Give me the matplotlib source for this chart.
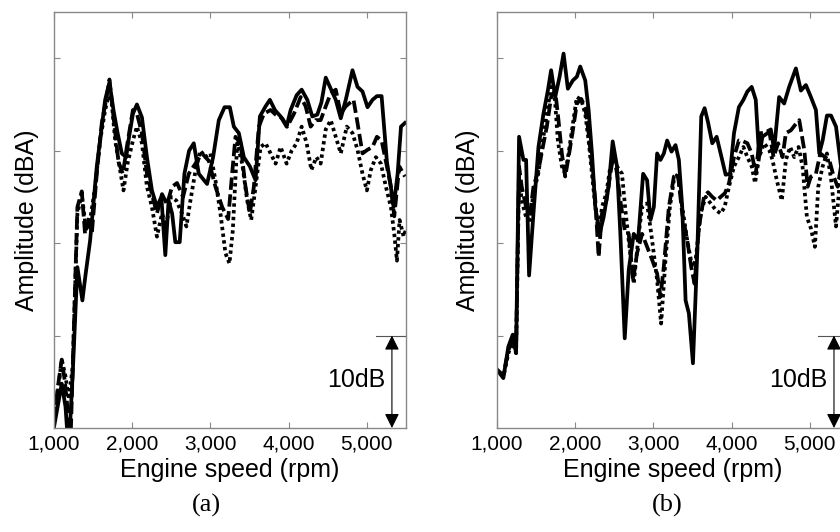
import matplotlib
matplotlib.use("Agg")
import matplotlib.pyplot as plt

plt.rcParams['font.family'] = ['Liberation Sans', 'DejaVu Sans']

# panel (a) -- amplitude relative to bottom of axis (dB)
a_solid_rpm = [1000, 1099, 1147, 1170, 1200, 1240, 1299, 1363, 1402, 1462, 1547, 1611, 1654, 1709,
               1760, 1811, 1867, 1923, 1952, 2009, 2060, 2124, 2188, 2252, 2316, 2372, 2423, 2465,
               2510, 2551, 2607, 2667, 2727, 2787, 2851, 2957, 3034, 3107, 3180, 3248, 3299, 3363,
               3427, 3504, 3577, 3632, 3705, 3760, 3824, 3897, 3974, 4025, 4102, 4166, 4238, 4302,
               4366, 4418, 4474, 4538, 4602, 4666, 4730, 4816, 4880, 4944, 5008, 5072, 5128, 5188,
               5256, 5299, 5342, 5393, 5436, 5487]
a_solid_db = [0.1, 4.8, 2.3, -0.5, -0.5, 6.0, 17.4, 13.8, 16.5, 20.3, 28.3, 32.6, 35.5, 37.4,
              34.4, 32.0, 29.7, 29.3, 31.1, 34.0, 35.0, 33.6, 29.3, 25.7, 23.9, 25.0, 18.7, 24.6,
              23.2, 20.1, 20.1, 27.5, 30.0, 30.8, 27.5, 26.4, 29.3, 33.3, 34.7, 34.7, 32.6, 31.9,
              29.3, 28.3, 26.8, 33.7, 34.8, 35.5, 34.4, 33.7, 32.6, 34.4, 36.0, 36.6, 35.5, 33.7,
              33.9, 35.2, 37.9, 36.7, 35.5, 33.5, 35.5, 38.7, 36.9, 36.4, 34.7, 35.5, 35.9, 35.9,
              28.8, 26.5, 23.9, 27.5, 32.6, 33.0]

a_dash_rpm = [1000, 1050, 1099, 1141, 1180, 1215, 1299, 1355, 1397, 1453, 1483, 1547, 1611, 1675,
              1709, 1760, 1824, 1880, 1931, 2009, 2060, 2124, 2188, 2252, 2316, 2381, 2445, 2509,
              2573, 2650, 2723, 2808, 2893, 2979, 3064, 3150, 3226, 3277, 3320, 3384, 3448, 3504,
              3555, 3619, 3683, 3769, 3833, 3918, 3982, 4068, 4153, 4217, 4281, 4345, 4409, 4474,
              4538, 4602, 4666, 4730, 4829, 4880, 4944, 5008, 5072, 5128, 5188, 5256, 5307, 5350,
              5414, 5487]
a_dash_db = [1.0, 4.5, 7.4, 4.9, 1.5, -0.5, 23.9, 25.6, 21.0, 22.9, 21.0, 27.5, 33.0, 35.9,
             37.7, 33.7, 28.8, 27.5, 30.4, 34.4, 34.0, 31.9, 27.5, 25.3, 23.2, 25.3, 24.2, 26.1,
             26.5, 25.0, 27.5, 28.6, 29.7, 28.9, 26.1, 23.9, 22.6, 27.5, 31.5, 30.8, 26.1, 23.2,
             26.1, 32.6, 34.0, 34.4, 33.9, 33.5, 32.6, 34.0, 35.8, 34.8, 32.6, 33.3, 33.3, 34.8,
             36.2, 36.6, 34.0, 34.8, 35.5, 33.0, 29.7, 30.1, 30.4, 31.5, 31.1, 28.3, 26.1, 22.9,
             28.3, 27.2]

a_dot_rpm = [1000, 1050, 1099, 1147, 1190, 1240, 1299, 1355, 1410, 1462, 1526, 1590, 1654, 1697,
             1739, 1782, 1837, 1888, 1940, 2009, 2060, 2124, 2188, 2252, 2316, 2381, 2432, 2496,
             2564, 2637, 2693, 2744, 2808, 2872, 2936, 3000, 3064, 3128, 3192, 3243, 3286, 3342,
             3406, 3470, 3521, 3577, 3641, 3705, 3769, 3833, 3897, 3974, 4038, 4102, 4166, 4230,
             4290, 4354, 4409, 4474, 4538, 4602, 4666, 4743, 4816, 4880, 4944, 5000, 5050, 5115,
             5179, 5243, 5307, 5350, 5384, 5418, 5470, 5500]
a_dot_db = [1.0, 4.0, 7.4, 5.6, 3.1, 6.7, 23.2, 25.3, 21.4, 22.5, 26.1, 31.1, 34.4, 35.9,
            35.1, 31.1, 28.3, 25.7, 28.6, 31.1, 32.6, 30.8, 26.1, 23.9, 20.7, 23.2, 21.8, 25.0,
            24.6, 23.2, 21.8, 24.6, 27.8, 30.0, 29.3, 29.7, 26.8, 23.2, 18.9, 17.8, 21.4, 30.8,
            28.6, 24.6, 22.5, 26.1, 30.4, 30.8, 29.7, 28.6, 30.4, 28.6, 30.0, 30.8, 32.6, 30.8,
            27.9, 29.3, 28.6, 32.3, 33.3, 31.5, 29.7, 32.6, 31.9, 30.1, 27.5, 25.7, 27.9, 29.3,
            28.6, 26.1, 23.9, 21.0, 18.1, 22.5, 20.7, 21.5]

# panel (b)
b_solid_rpm = [1000, 1081, 1145, 1201, 1244, 1282, 1338, 1372, 1410, 1466, 1530, 1594, 1650, 1692,
               1744, 1800, 1851, 1906, 1970, 2021, 2064, 2128, 2171, 2214, 2257, 2312, 2363, 2427,
               2479, 2534, 2577, 2633, 2684, 2748, 2804, 2868, 2919, 2962, 3005, 3047, 3090, 3133,
               3175, 3231, 3282, 3325, 3368, 3411, 3453, 3505, 3560, 3611, 3654, 3697, 3752, 3808,
               3859, 3923, 3979, 4030, 4092, 4150, 4201, 4256, 4308, 4351, 4393, 4458, 4500, 4543,
               4607, 4671, 4735, 4821, 4885, 4949, 5013, 5077, 5120, 5163, 5218, 5270, 5334, 5398,
               5450, 5500]
b_solid_db = [6.3, 5.4, 8.8, 10.1, 8.1, 31.5, 29.0, 29.0, 16.5, 23.2, 30.4, 34.0, 36.5, 38.7,
              35.8, 38.0, 40.5, 36.7, 37.6, 38.0, 39.1, 37.6, 34.4, 29.7, 23.9, 21.0, 22.8, 26.1,
              31.0, 28.3, 21.0, 9.7, 17.1, 21.0, 20.3, 27.5, 26.8, 22.5, 23.9, 29.7, 29.0, 29.7,
              31.1, 29.9, 30.6, 29.0, 23.9, 13.8, 12.4, 7.0, 18.9, 33.7, 34.6, 33.1, 30.8, 31.5,
              29.7, 27.4, 27.5, 31.9, 34.7, 35.5, 36.4, 36.9, 35.5, 29.3, 31.5, 31.9, 32.3, 30.1,
              35.8, 35.1, 36.9, 38.9, 36.5, 37.1, 35.8, 34.4, 29.7, 31.1, 33.8, 33.8, 32.6, 28.3,
              30.5, 29.0]

b_dash_rpm = [1000, 1081, 1145, 1201, 1244, 1282, 1316, 1372, 1423, 1466, 1530, 1586, 1637, 1692,
              1744, 1786, 1829, 1872, 1915, 1970, 2021, 2077, 2128, 2171, 2214, 2257, 2299, 2342,
              2398, 2449, 2491, 2534, 2577, 2633, 2684, 2739, 2790, 2855, 2919, 2983, 3047, 3090,
              3133, 3197, 3261, 3312, 3368, 3432, 3483, 3526, 3582, 3646, 3697, 3752, 3808, 3859,
              3914, 3966, 4030, 4092, 4150, 4201, 4256, 4308, 4364, 4415, 4479, 4535, 4594, 4650,
              4693, 4757, 4821, 4864, 4928, 4971, 5013, 5077, 5133, 5193, 5248, 5304, 5355, 5398,
              5450, 5500]
b_dash_db = [6.3, 5.7, 8.4, 9.5, 8.4, 28.3, 26.1, 23.9, 23.2, 26.1, 27.9, 30.4, 32.6, 35.8,
             36.5, 33.3, 29.7, 27.2, 29.3, 32.2, 35.1, 35.6, 34.7, 31.9, 28.3, 24.6, 18.5, 23.2,
             24.6, 27.5, 29.7, 27.5, 24.6, 21.4, 21.0, 16.0, 18.9, 21.0, 19.6, 18.2, 16.7, 14.2,
             17.5, 23.9, 27.2, 27.5, 23.2, 20.3, 17.4, 15.6, 21.8, 25.0, 25.5, 25.0, 24.6, 25.0,
             25.4, 26.5, 29.3, 31.1, 31.0, 30.8, 29.7, 27.5, 31.9, 31.9, 32.2, 29.3, 30.8, 29.3,
             31.9, 32.2, 32.9, 33.3, 30.1, 26.1, 27.2, 27.5, 29.7, 29.3, 29.0, 27.2, 26.1, 28.3,
             27.5, 27.0]

b_dot_rpm = [1000, 1081, 1145, 1201, 1244, 1282, 1316, 1372, 1423, 1466, 1530, 1586, 1637, 1692,
             1735, 1778, 1829, 1872, 1915, 1970, 2021, 2077, 2128, 2171, 2214, 2257, 2299, 2342,
             2398, 2449, 2491, 2534, 2598, 2641, 2684, 2748, 2812, 2855, 2919, 2983, 3047, 3098,
             3154, 3210, 3261, 3312, 3368, 3432, 3496, 3539, 3603, 3667, 3731, 3795, 3859, 3910,
             3966, 4030, 4092, 4150, 4201, 4256, 4299, 4351, 4415, 4479, 4522, 4577, 4641, 4693,
             4748, 4800, 4855, 4906, 4962, 5013, 5064, 5107, 5163, 5218, 5270, 5334, 5377, 5398,
             5450, 5500]
b_dot_db = [6.3, 5.5, 8.1, 9.2, 8.1, 27.2, 24.6, 22.8, 22.5, 25.4, 27.6, 31.1, 34.0, 36.9,
            36.2, 31.1, 28.3, 27.5, 29.7, 32.9, 35.8, 35.5, 34.0, 31.1, 27.5, 23.9, 21.0, 23.9,
            25.4, 28.3, 29.0, 28.3, 27.5, 23.6, 20.3, 15.6, 21.0, 23.9, 24.3, 20.3, 16.0, 11.3,
            18.2, 23.9, 26.8, 27.5, 23.9, 20.3, 17.4, 18.1, 23.2, 25.0, 24.3, 23.6, 23.2, 23.9,
            26.1, 28.3, 29.3, 30.4, 29.3, 28.3, 26.5, 29.3, 30.8, 30.1, 29.0, 26.8, 24.6, 29.0,
            30.4, 29.3, 30.4, 28.3, 22.8, 21.6, 19.6, 26.1, 28.3, 29.7, 27.0, 21.8, 26.1, 27.5,
            26.0, 25.0]

x_ticks = [1000, 2000, 3000, 4000, 5000]
x_ticklabels = ['1,000', '2,000', '3,000', '4,000', '5,000']
y_ticks = [10, 20, 30, 40]

fig = plt.figure(figsize=(8.4, 5.32), dpi=100)
ax_a = fig.add_axes([54 / 840, 104 / 532, 352 / 840, 416 / 532])
ax_b = fig.add_axes([497 / 840, 104 / 532, 352 / 840, 416 / 532])

panels = [
    (ax_a, a_solid_rpm, a_solid_db, a_dash_rpm, a_dash_db, a_dot_rpm, a_dot_db, 5320, 5115, 206, '(a)', 27),
    (ax_b, b_solid_rpm, b_solid_db, b_dash_rpm, b_dash_db, b_dot_rpm, b_dot_db, 5308, 5103, 667, '(b)', 468),
]

for ax, sx, sy, dx, dy, ox, oy, arr_x, bar_x, lab_x, lab, ylab_x in panels:
    ax.plot(ox, oy, color='black', lw=2.7, linestyle=(0, (0.9, 0.9)))
    ax.plot(dx, dy, color='black', lw=2.7, linestyle=(0, (3.3, 1.2)))
    ax.plot(sx, sy, color='black', lw=2.7)

    ax.set_xlim(1000, 5500)
    ax.set_ylim(0, 45)
    ax.set_xticks(x_ticks)
    ax.set_xticklabels(x_ticklabels)
    ax.set_yticks(y_ticks)
    ax.set_yticklabels([])
    ax.tick_params(direction='in', length=4, width=0.8, color='#888888',
                   top=True, right=True, labelsize=15, pad=5)
    for sp in ax.spines.values():
        sp.set_color('#888888')
        sp.set_linewidth(1.0)

    # 10 dB scale marker
    ax.plot([bar_x, 5500], [10, 10], color='#555555', lw=0.8, clip_on=False)
    ax.annotate('', xy=(arr_x, 0), xytext=(arr_x, 10),
                arrowprops=dict(arrowstyle='<|-|>', color='black', lw=0.8,
                                mutation_scale=22, shrinkA=0, shrinkB=0))
    ax.text(arr_x - 80, 5.2, '10dB', ha='right', va='center', fontsize=18)

    ax.set_xlabel('Engine speed (rpm)', fontsize=18, labelpad=3)
    fig.text(ylab_x / 840, 1 - 220 / 532, 'Amplitude (dBA)', rotation=90,
             ha='center', va='center', fontsize=18)
    fig.text(lab_x / 840, 1 - 505 / 532, lab, ha='center', va='center',
             fontsize=19, family=['Liberation Serif', 'DejaVu Serif'])

fig.savefig('out.png', dpi=100)
